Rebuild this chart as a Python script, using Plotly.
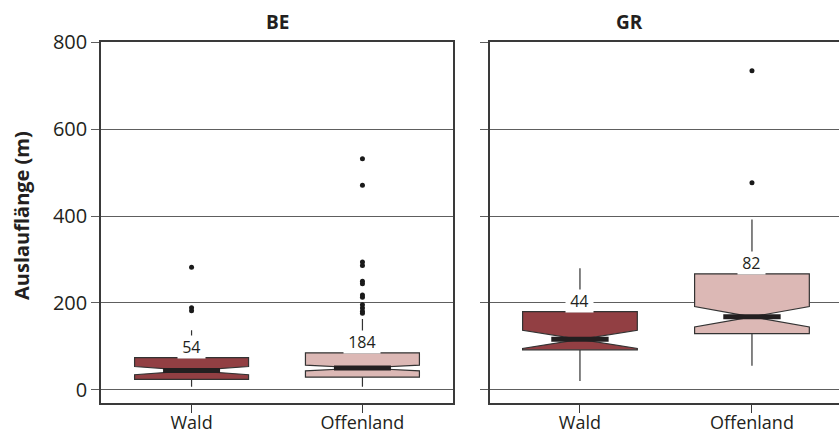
import plotly.graph_objects as go

# Runout length (m) of avalanches per canton and terrain type
categories = ["Wald", "Offenland"]
panels = ["BE", "GR"]

n_events = {"BE": [54, 184], "GR": [44, 82]}
q1 = {"BE": [24, 29], "GR": [92, 129]}
median = {"BE": [44, 50], "GR": [116, 168]}
q3 = {"BE": [74, 85], "GR": [180, 267]}
whisker_low = {"BE": [7, 7], "GR": [20, 55]}
whisker_high = {"BE": [137, 163], "GR": [280, 392]}
notch_half = {"BE": [9.5, 6.5], "GR": [21, 23.5]}
outliers = {
    "BE": [[282, 189, 182],
           [532, 471, 294, 286, 250, 244, 218, 213, 196, 188, 181, 176]],
    "GR": [[], [735, 477]],
}

box_colors = ["#923f43", "#dcb8b5"]
outline = "#333333"
box_width = 0.667
font_family = "Open Sans"

W, H = 839, 436
fig = go.Figure()

axes_ref = {"BE": ("x", "y"), "GR": ("x2", "y2")}

for p in panels:
    xa, ya = axes_ref[p]
    for i, cat in enumerate(categories):
        fig.add_trace(go.Box(
            x=[i],
            q1=[q1[p][i]], median=[median[p][i]], q3=[q3[p][i]],
            lowerfence=[whisker_low[p][i]], upperfence=[whisker_high[p][i]],
            notchspan=[notch_half[p][i]],
            notched=True, notchwidth=0.5,
            width=box_width, whiskerwidth=0,
            fillcolor=box_colors[i],
            line=dict(color=outline, width=1.2),
            boxpoints=False, showlegend=False, hoverinfo="skip",
            xaxis=xa, yaxis=ya,
        ))
    # thick median bars across the notch waist
    mx, my = [], []
    for i in range(len(categories)):
        half = box_width / 4
        mx += [i - half, i + half, None]
        my += [median[p][i], median[p][i], None]
    fig.add_trace(go.Scatter(
        x=mx, y=my, mode="lines",
        line=dict(color="#231f20", width=5),
        showlegend=False, hoverinfo="skip", xaxis=xa, yaxis=ya,
    ))
    # outlying events
    ox, oy = [], []
    for i in range(len(categories)):
        ox += [i] * len(outliers[p][i])
        oy += outliers[p][i]
    fig.add_trace(go.Scatter(
        x=ox, y=oy, mode="markers",
        marker=dict(color="#1a1a1a", size=5),
        showlegend=False, hoverinfo="skip", xaxis=xa, yaxis=ya,
    ))
    # sample size above each box
    for i in range(len(categories)):
        fig.add_annotation(
            x=i, y=q3[p][i], xref=xa, yref=ya,
            text="\u00a0" + str(n_events[p][i]) + "\u00a0",
            showarrow=False, yanchor="bottom", yshift=-1,
            bgcolor="white", borderpad=0,
            font=dict(family=font_family, size=16, color="#231f20"),
        )

y_range = [-30.6, 801]
y_domain = [(H - 403) / H, (H - 42) / H]
grid = "#5e5e5e"
axis_line = "#3a3a3a"

common_x = dict(
    tickvals=[0, 1], ticktext=categories, ticks="outside", ticklen=8,
    tickcolor=axis_line, showline=True, linecolor=axis_line, linewidth=1.5,
    mirror=True, showgrid=False, zeroline=False, automargin=False,
    ticklabelstandoff=-5,
    tickfont=dict(family=font_family, size=18, color="#231f20"),
)
common_y = dict(
    range=y_range, domain=y_domain, tickvals=[0, 200, 400, 600, 800],
    ticks="outside", ticklen=8, tickcolor=grid,
    showline=True, linecolor=axis_line, linewidth=1.5, mirror=True,
    showgrid=True, gridcolor=grid, gridwidth=1.2, zeroline=False,
    automargin=False,
    tickfont=dict(family=font_family, size=20, color="#231f20"),
)

fig.update_layout(
    width=W, height=H,
    margin=dict(l=0, r=0, t=0, b=0, autoexpand=False),
    paper_bgcolor="white", plot_bgcolor="white",
    xaxis=dict(domain=[101 / W, 453 / W], range=[-0.53, 1.53], anchor="y", **common_x),
    yaxis=dict(anchor="x", **common_y),
    xaxis2=dict(domain=[490 / W, 1.0], range=[-0.523, 1.506], anchor="y2", **common_x),
    yaxis2=dict(anchor="x2", showticklabels=False, **common_y),
)

# panel titles
for label, xc in [("BE", 277), ("GR", 629)]:
    fig.add_annotation(
        x=xc / W, y=(H - 22) / H, xref="paper", yref="paper",
        xanchor="center", yanchor="middle",
        text="<b>" + label + "</b>", showarrow=False,
        font=dict(family=font_family, size=19, color="#231f20"),
    )

# y axis title
fig.add_annotation(
    x=21 / W, y=(H - 216) / H, xref="paper", yref="paper",
    xanchor="center", yanchor="middle",
    text="<b>Auslauflänge (m)</b>", showarrow=False, textangle=-90,
    font=dict(family=font_family, size=20, color="#231f20"),
)

fig.write_html("out.html")
